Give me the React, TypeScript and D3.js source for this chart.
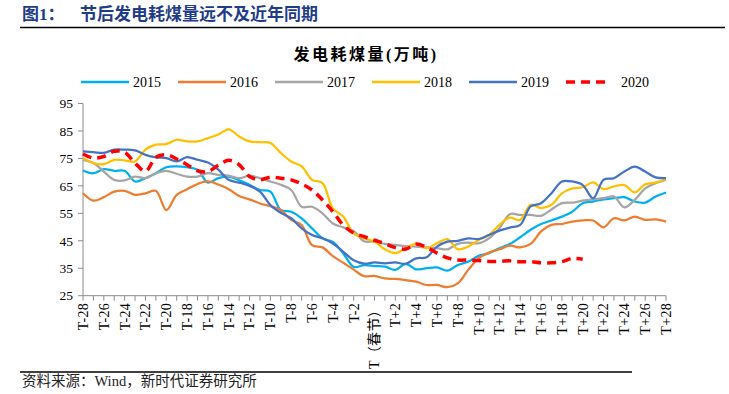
import React from 'react';
import * as d3 from 'd3';

// T-28 ... T（春节） ... T+28
const categories = [
  'T-28', 'T-27', 'T-26', 'T-25', 'T-24', 'T-23', 'T-22', 'T-21', 'T-20', 'T-19',
  'T-18', 'T-17', 'T-16', 'T-15', 'T-14', 'T-13', 'T-12', 'T-11', 'T-10', 'T-9',
  'T-8', 'T-7', 'T-6', 'T-5', 'T-4', 'T-3', 'T-2', 'T-1', 'T（春节）',
  'T+1', 'T+2', 'T+3', 'T+4', 'T+5', 'T+6', 'T+7', 'T+8', 'T+9', 'T+10',
  'T+11', 'T+12', 'T+13', 'T+14', 'T+15', 'T+16', 'T+17', 'T+18', 'T+19', 'T+20',
  'T+21', 'T+22', 'T+23', 'T+24', 'T+25', 'T+26', 'T+27', 'T+28',
];

const years = ['2015', '2016', '2017', '2018', '2019', '2020'];
const colors = ['#00B0F0', '#ED7D31', '#A5A5A5', '#FFC000', '#4472C4', '#FF0000'];

const v2015 = [
  70.6, 69.6, 71.1, 70.5, 70.5, 66.6, 67.8, 69.6, 71.8, 72.1, 71.8, 70.9, 66.2, 67.8, 68.4,
  67.0, 65.4, 63.5, 62.9, 56.2, 55.6, 53.2, 49.5, 45.9, 44.6, 40.4, 35.5, 36.1,
  35.8, 35.6, 34.4, 36.6, 34.6, 35.0, 35.3, 34.1, 36.2, 37.4, 39.5, 40.5, 42.3, 43.8,
  46.3, 49.0, 51.1, 52.4, 53.8, 55.6, 58.7, 59.3, 60.1, 60.5, 60.9, 59.3, 58.9, 61.1, 62.6,
];
const v2016 = [
  62.3, 59.6, 60.9, 62.9, 63.2, 61.7, 62.3, 63.2, 56.2, 61.7, 63.8, 65.7, 66.6, 65.5, 63.8,
  61.3, 60.1, 58.6, 57.6, 56.2, 52.6, 50.7, 43.4, 42.6, 39.4, 37.0, 34.5, 32.1,
  32.2, 31.3, 31.1, 30.7, 30.1, 28.9, 28.9, 28.1, 29.5, 34.4, 38.6, 40.7, 41.9, 43.2,
  42.6, 43.9, 48.4, 50.8, 51.1, 52.0, 52.4, 52.4, 49.9, 53.2, 52.4, 53.8, 52.6, 52.8, 52.0,
];
const v2017 = [
  74.5, 73.3, 70.2, 67.2, 67.0, 68.4, 67.8, 69.6, 70.5, 69.4, 68.4, 68.4, 69.6, 69.0, 68.7,
  67.8, 68.7, 67.8, 66.6, 65.4, 63.5, 57.4, 57.4, 55.0, 51.3, 49.9, 48.5, 44.8,
  44.7, 43.9, 43.5, 43.1, 42.9, 42.6, 42.3, 41.9, 43.9, 44.3, 44.1, 45.9, 49.6, 54.7,
  54.4, 54.4, 54.1, 56.4, 58.7, 58.9, 59.6, 60.1, 60.5, 61.1, 57.2, 59.9, 64.1, 66.0, 67.2,
];
const v2018 = [
  75.1, 73.3, 72.9, 74.5, 74.3, 73.9, 78.2, 80.0, 80.2, 81.8, 81.2, 81.2, 82.4, 83.7, 85.6,
  83.0, 81.2, 80.9, 80.6, 77.0, 73.9, 72.1, 67.2, 66.0, 56.8, 53.8, 47.7, 45.9,
  44.7, 41.9, 40.5, 42.3, 43.9, 42.3, 44.1, 45.6, 41.9, 42.9, 45.3, 47.1, 50.8, 53.4,
  52.6, 58.1, 56.9, 58.1, 62.3, 64.1, 64.5, 66.3, 63.8, 64.8, 65.3, 62.6, 65.6, 66.2, 67.4,
];
const v2019 = [
  77.6, 77.3, 77.0, 78.2, 78.2, 77.9, 76.3, 75.4, 75.1, 73.9, 75.5, 74.5, 73.5, 70.9, 67.2,
  66.2, 65.0, 62.9, 58.0, 55.2, 53.2, 49.5, 47.1, 45.9, 44.0, 41.0, 37.9, 36.7,
  37.1, 36.8, 37.1, 36.6, 38.6, 39.0, 42.9, 44.7, 45.0, 45.9, 45.6, 47.1, 48.7, 49.8,
  50.8, 57.5, 58.7, 62.3, 66.6, 66.6, 65.3, 60.5, 67.2, 67.8, 70.2, 72.0, 70.2, 68.1, 67.8,
];
// 2020 stops at T+20
const v2020 = [
  76.6, 75.1, 75.7, 77.6, 77.2, 73.3, 70.3, 75.4, 76.3, 74.8, 72.7, 70.5, 70.2, 72.5, 74.3,
  72.7, 68.4, 67.2, 68.2, 67.8, 67.2, 65.7, 63.5, 59.9, 55.6, 50.7, 47.8, 46.5,
  45.2, 44.0, 42.5, 42.0, 43.8, 42.6, 40.5, 38.8, 38.0, 38.0, 37.8, 37.5, 37.5, 37.7,
  37.4, 37.4, 37.0, 37.0, 37.4, 38.6, 38.3,
];
const series = [v2015, v2016, v2017, v2018, v2019, v2020];

const yTicks = [25, 35, 45, 55, 65, 75, 85, 95];

const serif = "'Liberation Serif', 'Noto Sans CJK SC', serif";

export default function App() {
  const width = 729;
  const height = 394;

  const x = d3.scalePoint<string>().domain(categories).range([83, 666]);
  const y = d3.scaleLinear().domain([25, 95]).range([295.7, 103.5]);

  const line = d3.line<number>()
    .x((_, i) => x(categories[i])!)
    .y(d => y(d))
    .curve(d3.curveCatmullRom.alpha(0.5));

  const axisColor = '#8c8c8c';
  const legendX = (i: number) => 81 + i * 97;

  return (
    <svg width={width} height={height} style={{ position: 'absolute', left: 0, top: 0, background: '#fff' }}
      fontFamily={serif}>
      <rect width={width} height={height} fill="#fff" />

      {/* header */}
      <text x={22} y={20} fontSize={17} fontWeight="bold" fill="#1F3C88">图1：</text>
      <text x={80} y={20} fontSize={17} fontWeight="bold" fill="#1F3C88">节后发电耗煤量远不及近年同期</text>
      <line x1={20} x2={725} y1={27.5} y2={27.5} stroke="#000" strokeWidth={1.5} />

      <text x={366} y={60} fontSize={16} fontWeight="bold" letterSpacing={2.5} textAnchor="middle"
        fill="#000">发电耗煤量(万吨)</text>

      {/* legend */}
      {years.map((yr, i) => (
        <g key={yr}>
          <line x1={legendX(i)} x2={legendX(i) + (i === 5 ? 42 : 48)} y1={82} y2={82}
            stroke={colors[i]} strokeWidth={i === 5 ? 3.5 : 2.5}
            strokeDasharray={i === 5 ? '9,6' : undefined} />
          <text x={legendX(i) + (i === 5 ? 55 : 52)} y={87} fontSize={14} fill="#000">{yr}</text>
        </g>
      ))}

      {/* y axis */}
      <line x1={83} x2={83} y1={y(95)} y2={y(25)} stroke={axisColor} strokeWidth={1} />
      {yTicks.map(t => (
        <g key={t}>
          <line x1={78} x2={83} y1={y(t)} y2={y(t)} stroke={axisColor} strokeWidth={1} />
          <text x={73} y={y(t)} dy="0.35em" fontSize={13.5} textAnchor="end" fill="#000">{t}</text>
        </g>
      ))}

      {/* x axis */}
      <line x1={83} x2={666} y1={y(25)} y2={y(25)} stroke={axisColor} strokeWidth={1} />
      {categories.map((c, i) => (
        <g key={c}>
          <line x1={x(c)} x2={x(c)} y1={y(25)} y2={y(25) + 5} stroke={axisColor} strokeWidth={1} />
          {i % 2 === 0 && (
            <text transform={`translate(${x(c)},${303}) rotate(-90)`} dy="0.35em" fontSize={14}
              letterSpacing={0.3} textAnchor="end" fill="#000">{c}</text>
          )}
        </g>
      ))}

      {/* series */}
      {series.map((vals, i) => (
        <path key={years[i]} d={line(vals) ?? ''} fill="none" stroke={colors[i]}
          strokeWidth={i === 5 ? 3.5 : 2.25} strokeDasharray={i === 5 ? '9,6' : undefined}
          strokeLinejoin="round" />
      ))}

      {/* footer */}
      <line x1={20} x2={632} y1={372} y2={372} stroke="#000" strokeWidth={1.5} />
      <text x={22} y={386} fontSize={14.5} fill="#222">资料来源：Wind，新时代证券研究所</text>
    </svg>
  );
}
